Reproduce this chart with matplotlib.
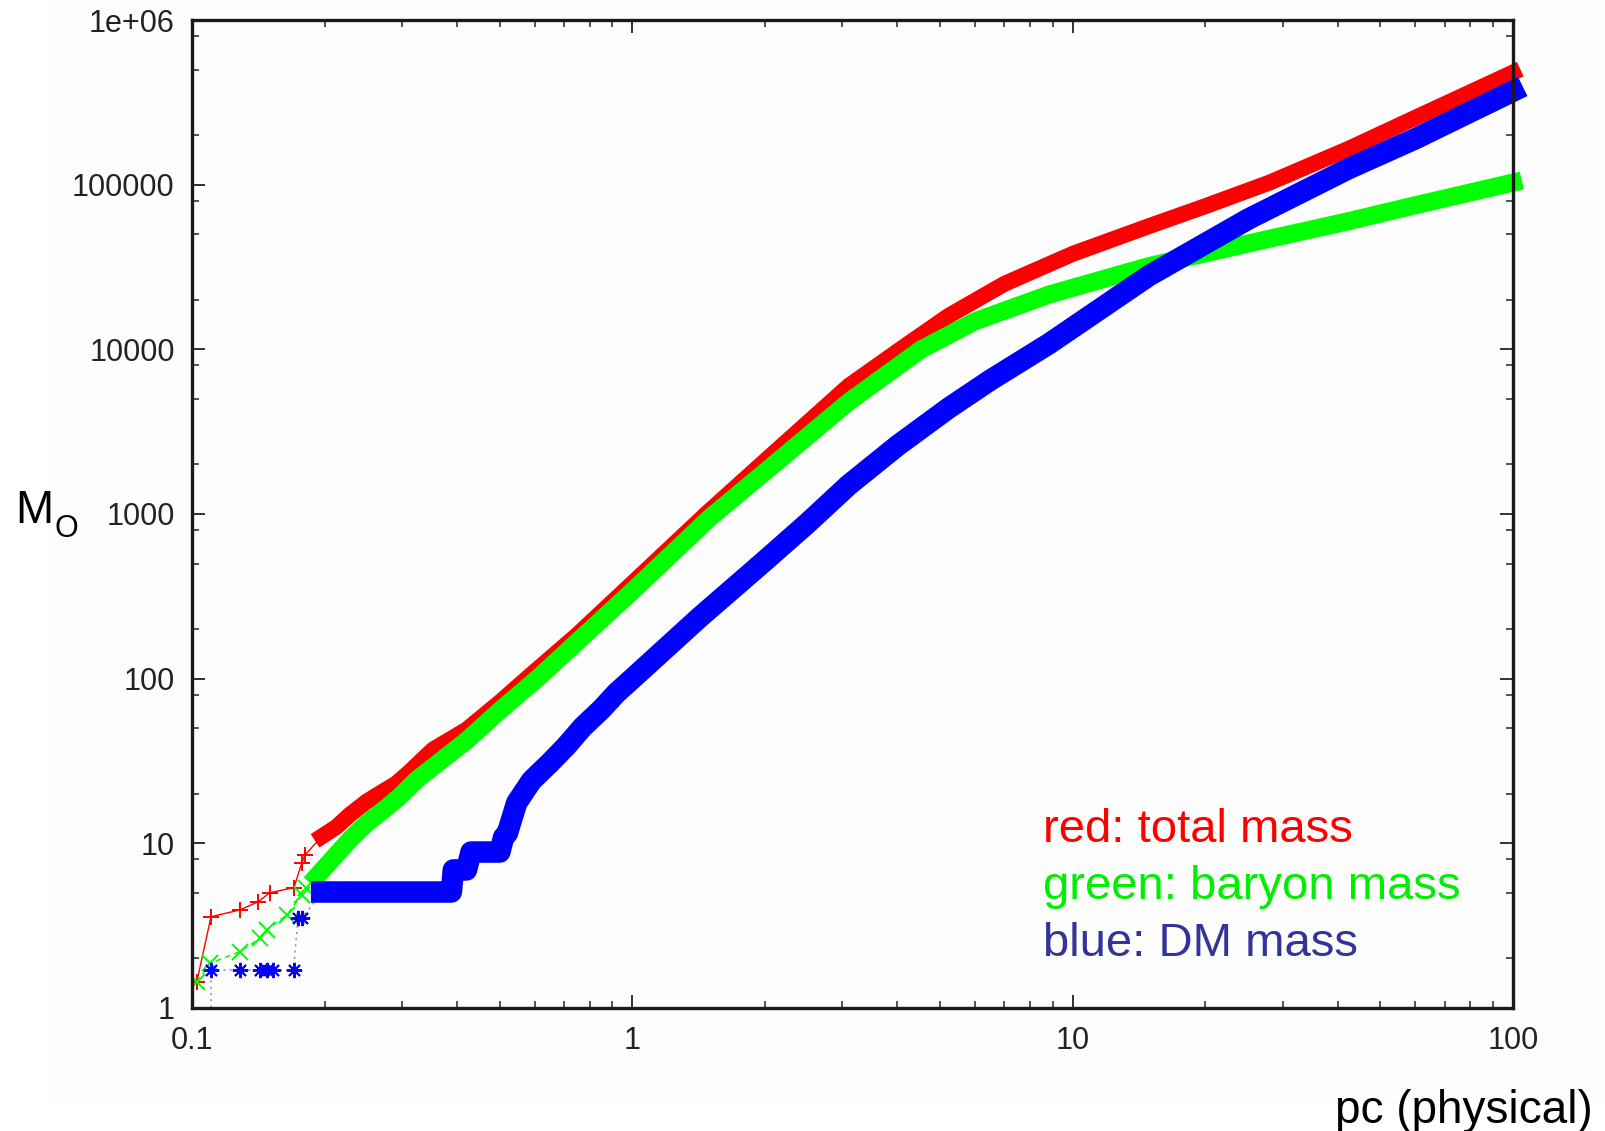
import matplotlib.pyplot as plt
from matplotlib.patches import Rectangle
from matplotlib.ticker import NullFormatter
import numpy as np

plt.rcParams['font.family'] = ['Liberation Sans', 'DejaVu Sans']

# enclosed mass profiles, radius in pc (physical), mass in solar masses
r_total = np.array([0.1025, 0.1104, 0.1285, 0.1414, 0.1502, 0.1703, 0.1774, 0.1805,
                    0.197, 0.213, 0.228, 0.249, 0.267, 0.291, 0.312, 0.352, 0.42, 0.5,
                    0.575, 0.75, 1.0, 1.47, 2.0, 3.1, 4.06, 5.23, 7.0, 10.0, 14.9,
                    20.0, 28.0, 42.3, 60.0, 100.0])
m_total = np.array([1.44, 3.58, 3.94, 4.42, 5.01, 5.38, 7.56, 8.49,
                    11.0, 12.6, 14.9, 17.9, 20.1, 23.1, 27.2, 37.0, 49.0, 72.0,
                    100, 185, 380, 1000, 2100, 6000, 10000, 16000, 25000, 38000, 56000,
                    74000, 103000, 165000, 255000, 480000])

r_baryon = np.array([0.1025, 0.110, 0.1285, 0.1426, 0.1477, 0.164, 0.1774, 0.1817,
                     0.1916, 0.209, 0.228, 0.249, 0.272, 0.296, 0.323, 0.352, 0.42, 0.5,
                     0.608, 1.0, 1.5, 2.0, 3.1, 4.53, 6.0, 8.83, 14.9, 25.1, 42.3,
                     60.0, 100.0])
m_baryon = np.array([1.44, 1.87, 2.20, 2.65, 2.98, 3.67, 4.85, 5.33,
                     6.27, 8.11, 10.5, 13.2, 15.9, 19.2, 24.2, 29.0, 42.0, 64.0,
                     100, 340, 950, 1800, 4800, 10000, 14800, 21500, 32000, 44000, 60000,
                     75000, 103000])

r_dm = np.array([0.1104, 0.1104, 0.1285, 0.1426, 0.1477, 0.1527, 0.170, 0.174, 0.178,
                 0.197, 0.388, 0.392, 0.42, 0.43, 0.50, 0.51, 0.52, 0.546, 0.59,
                 0.649, 0.708, 0.771, 0.85, 0.92, 1.0, 1.42, 2.0, 2.5, 3.1, 4.0,
                 5.23, 6.5, 8.83, 14.9, 25.1, 42.3, 60.0, 100.0])
m_dm = np.array([0.5, 1.70, 1.70, 1.70, 1.70, 1.70, 1.70, 3.52, 3.52,
                 5.06, 5.06, 6.89, 6.89, 8.85, 8.85, 10.9, 11.5, 17.6, 24.0,
                 30.7, 39.0, 50.8, 65.0, 81.8, 100, 235, 520, 880, 1500, 2600,
                 4400, 6500, 10800, 28000, 62000, 125000, 190000, 370000])

x_ticks = [0.1, 1, 10, 100]
x_labels = ['0.1', '1', '10', '100']
y_ticks = [1, 10, 100, 1000, 10000, 100000, 1000000]
y_labels = ['1', '10', '100', '1000', '10000', '100000', '1e+06']

legend_lines = ['red: total mass', 'green: baryon mass', 'blue: DM mass']
legend_colors = ['#ff0000', '#00ee00', '#333399']

fig = plt.figure(figsize=(16.06, 11.31), dpi=100)
fig.patches.append(Rectangle((53 / 1606, 1 - 1105 / 1131), 1, 1105 / 1131,
                             transform=fig.transFigure, fc='#fdfdfd', ec='none', zorder=-10))
ax = fig.add_axes([0.1196, 0.1088, 0.8225, 0.8735])
ax.set_facecolor('none')


def profile(r, m, color, line_color, ls, marker, ms, band_lw, start):
    # sparse inner points drawn as markers, the dense part as a thick band
    sparse = list(r < start)
    ax.plot(r, m, color=line_color, ls=ls, lw=1.0, marker=marker, ms=ms, mew=1.4,
            mec=color, markevery=sparse)
    dense = r >= start
    ax.plot(r[dense], m[dense], color=color, lw=band_lw, clip_on=False,
            solid_capstyle='projecting', solid_joinstyle='round')


profile(r_total, m_total, '#ff0000', '#ff0000', '-', '+', 12, 11.5, 0.197)
profile(r_baryon, m_baryon, '#00ff00', '#00ff00', (0, (4, 3)), 'x', 11, 13, 0.19)
profile(r_dm, m_dm, '#0000ff', '#7777ff', (0, (1.5, 3)), (8, 2, 0), 11, 15.5, 0.197)

ax.set_xscale('log')
ax.set_yscale('log')
ax.set_xlim(0.1, 100)
ax.set_ylim(1, 1e6)
ax.set_xticks(x_ticks, x_labels)
ax.set_yticks(y_ticks, y_labels)
ax.set_xticks([k * 10.0 ** d for d in (-1, 0, 1) for k in range(2, 10)], minor=True)
ax.set_yticks([k * 10.0 ** d for d in range(6) for k in (2, 5, 8)], minor=True)
ax.xaxis.set_minor_formatter(NullFormatter())
ax.yaxis.set_minor_formatter(NullFormatter())

ax.tick_params(which='both', direction='in', top=True, right=True,
               color='#222222', labelcolor='#222222', labelsize=22)
ax.tick_params(which='major', length=9.5, width=1.3)
ax.tick_params(which='minor', length=5, width=1.1)
ax.tick_params(axis='x', pad=13)
ax.tick_params(axis='y', pad=12.5)
for s in ax.spines.values():
    s.set_linewidth(2.4)
    s.set_color('#1a1a1a')

fig.text(15 / 1606, 1 - 523 / 1131, 'M', fontsize=33, va='baseline', ha='left')
fig.text(55 / 1606, 1 - 537 / 1131, 'O', fontsize=22, va='baseline', ha='left')
fig.text(1593 / 1606, 1 - 1123 / 1131, 'pc (physical)', fontsize=33,
         va='baseline', ha='right')

for i, (txt, c) in enumerate(zip(legend_lines, legend_colors)):
    fig.text(1043 / 1606, 1 - (842 + 57 * i) / 1131, txt, fontsize=34,
             color=c, va='baseline', ha='left')

fig.savefig('out.png', dpi=100)
